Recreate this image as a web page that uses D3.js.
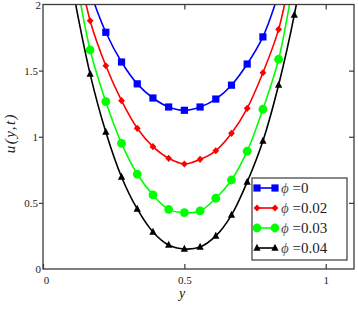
<!DOCTYPE html>
<html lang="en">
<head>
    <meta charset="UTF-8">
    <title>u(y,t) profiles</title>
    <style>
        body { margin: 0; background: #fff; }
        svg { display: block; }
        text { font-family: "Liberation Serif", "Times New Roman", serif; fill: #222; }
    </style>
    <script src="https://d3js.org/d3.v7.min.js"></script>
</head>
<body>
    <script>
        const w = 358;
        const h = 311;

        // y positions of the sampled points (markers sit on every one inside the box)
        const yPos = [0.1111, 0.1667, 0.2222, 0.2778, 0.3333, 0.3889, 0.4444, 0.5,
                      0.5556, 0.6111, 0.6667, 0.7222, 0.7778, 0.8333, 0.8889, 0.9444];

        // u(y,t), one array per phi value
        const uPhi0   = [2.50, 2.10, 1.79, 1.565, 1.40, 1.293, 1.225, 1.20, 1.225, 1.285, 1.39, 1.55, 1.755, 2.08, 2.45, 2.90];
        const uPhi002 = [2.45, 1.877, 1.537, 1.273, 1.064, 0.925, 0.837, 0.794, 0.829, 0.894, 1.026, 1.215, 1.484, 1.812, 2.35, 2.80];
        const uPhi003 = [2.28, 1.656, 1.265, 0.95, 0.718, 0.56, 0.451, 0.426, 0.439, 0.535, 0.673, 0.891, 1.208, 1.586, 2.20, 2.80];
        const uPhi004 = [2.05, 1.474, 1.036, 0.696, 0.454, 0.28, 0.181, 0.151, 0.166, 0.25, 0.408, 0.658, 0.968, 1.391, 1.921, 2.60];

        const legendLabels = ["=0", "=0.02", "=0.03", "=0.04"];
        const xTicks = [0, 0.5, 1];
        const yTicks = [0, 0.5, 1, 1.5, 2];

        const series = [
            { vals: uPhi0,   color: "#0000ff", marker: "square" },
            { vals: uPhi002, color: "#ff0000", marker: "diamond" },
            { vals: uPhi003, color: "#00ff00", marker: "circle" },
            { vals: uPhi004, color: "#000000", marker: "triangle" }
        ];

        const padL = 43, padR = 354, padT = 4.5, padB = 269;
        const serif = "'Liberation Serif', 'Times New Roman', serif";

        const xScale = d3.scaleLinear().domain([0, 1.1]).range([padL, padR]);
        const yScale = d3.scaleLinear().domain([0, 2]).range([padB, padT]);

        const svg = d3.select("body").append("svg")
            .attr("width", w)
            .attr("height", h);

        svg.append("clipPath").attr("id", "clip")
            .append("rect")
            .attr("x", padL).attr("y", padT)
            .attr("width", padR - padL).attr("height", padB - padT);

        // draw one marker shape centred on 0,0
        function drawMarker(sel, kind, color) {
            if (kind === "circle") {
                sel.append("circle").attr("r", 4.4).attr("fill", color);
            } else if (kind === "square") {
                sel.append("rect").attr("x", -3.6).attr("y", -3.6)
                   .attr("width", 7.2).attr("height", 7.2).attr("fill", color);
            } else if (kind === "diamond") {
                sel.append("path").attr("d", "M0,-3.6L3.4,0L0,3.6L-3.4,0Z").attr("fill", color);
            } else {
                sel.append("path").attr("d", "M0,-4.2L3.6,2.8L-3.6,2.8Z").attr("fill", color);
            }
        }

        const line = d3.line()
            .x((d, i) => xScale(yPos[i]))
            .y(d => yScale(d))
            .curve(d3.curveCatmullRom.alpha(0.5));

        const plot = svg.append("g").attr("clip-path", "url(#clip)");

        series.forEach(s => {
            plot.append("path")
                .datum(s.vals)
                .attr("d", line)
                .attr("fill", "none")
                .attr("stroke", s.color)
                .attr("stroke-width", 1.6);

            plot.selectAll(null)
                .data(s.vals)
                .enter()
                .append("g")
                .attr("transform", (d, i) => `translate(${xScale(yPos[i])},${yScale(d)})`)
                .each(function() { drawMarker(d3.select(this), s.marker, s.color); });
        });

        // frame and ticks
        const axisColor = "#3a3a3a";
        svg.append("rect")
            .attr("x", padL).attr("y", padT)
            .attr("width", padR - padL).attr("height", padB - padT)
            .attr("fill", "none").attr("stroke", axisColor).attr("stroke-width", 1.3);

        const bottomAxis = svg.append("g").attr("transform", `translate(0,${padB})`)
            .call(d3.axisBottom(xScale).tickValues(xTicks).tickSizeInner(-5).tickSizeOuter(0)
                  .tickPadding(7).tickFormat(d3.format("")));
        const topAxis = svg.append("g").attr("transform", `translate(0,${padT})`)
            .call(d3.axisTop(xScale).tickValues(xTicks.slice(1)).tickSizeInner(-5).tickSizeOuter(0)
                  .tickFormat(""));
        const leftAxis = svg.append("g").attr("transform", `translate(${padL},0)`)
            .call(d3.axisLeft(yScale).tickValues(yTicks.slice(1, 4)).tickSizeInner(4).tickSizeOuter(0)
                  .tickPadding(1).tickFormat(d3.format("")));
        const leftLabels = svg.append("g").attr("transform", `translate(${padL},0)`)
            .call(d3.axisLeft(yScale).tickValues([0, 2]).tickSizeInner(0).tickSizeOuter(0)
                  .tickPadding(2).tickFormat(d3.format("")));
        const rightAxis = svg.append("g").attr("transform", `translate(${padR},0)`)
            .call(d3.axisRight(yScale).tickValues(yTicks.slice(1, 4)).tickSizeInner(-5).tickSizeOuter(0)
                  .tickFormat(""));

        [bottomAxis, topAxis, leftAxis, leftLabels, rightAxis].forEach(a => {
            a.select(".domain").remove();
            a.selectAll("line").attr("stroke", axisColor).attr("stroke-width", 1.2);
            a.selectAll("text")
             .attr("font-family", null)
             .style("font-family", serif)
             .style("font-size", "11px")
             .attr("fill", "#333");
        });
        bottomAxis.selectAll(".tick").filter(d => d === 0).select("text").attr("dx", 3);

        // axis titles
        svg.append("text")
            .attr("x", 182).attr("y", 298)
            .attr("text-anchor", "middle")
            .style("font-family", serif)
            .style("font-size", "14px").style("font-style", "italic")
            .text("y");

        svg.append("text")
            .attr("transform", "translate(15,133) rotate(-90)")
            .attr("text-anchor", "middle")
            .style("font-family", serif)
            .style("font-size", "15px").style("font-style", "italic")
            .style("letter-spacing", "1.5px")
            .text("u(y,t)");

        // legend
        const legend = svg.append("g");
        legend.append("rect")
            .attr("x", 252).attr("y", 178)
            .attr("width", 95).attr("height", 82)
            .attr("fill", "#fff").attr("stroke", axisColor).attr("stroke-width", 1.2);

        series.forEach((s, i) => {
            const ly = 188 + i * 20;
            const row = legend.append("g");
            row.append("line")
                .attr("x1", 257).attr("x2", 275).attr("y1", ly).attr("y2", ly)
                .attr("stroke", s.color).attr("stroke-width", 1.6);
            [257, 275].forEach(mx => {
                drawMarker(row.append("g").attr("transform", `translate(${mx},${ly})`), s.marker, s.color);
            });
            const t = row.append("text")
                .attr("x", 281).attr("y", ly + 5)
                .style("font-family", serif)
                .style("font-size", "15px");
            t.append("tspan").style("font-style", "italic").attr("fill", "#555").text("\u03d5");
            t.append("tspan").text(" " + legendLabels[i]);
        });
    </script>
</body>
</html>
